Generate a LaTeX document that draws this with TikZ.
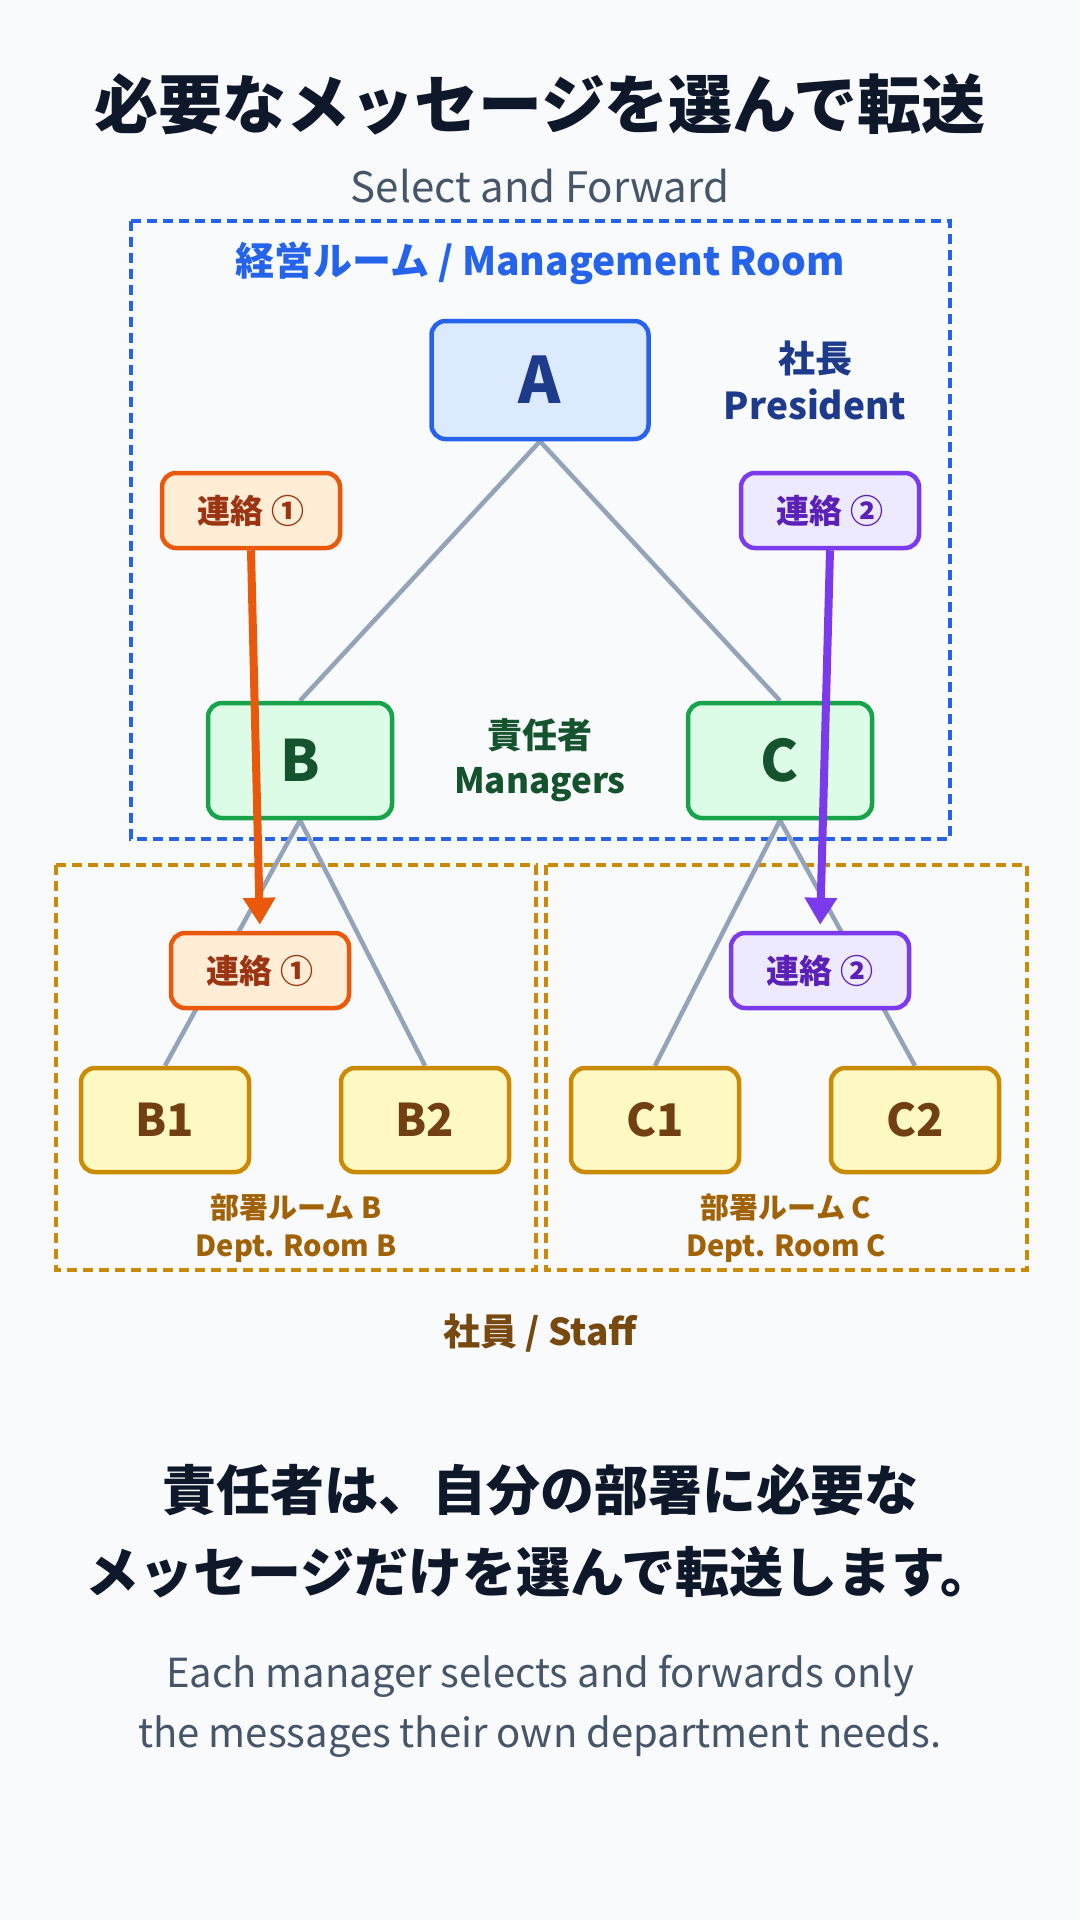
\documentclass[tikz,border=0pt]{standalone}
\usepackage{fontspec}
\setmainfont{Noto Sans CJK JP}
\usepackage{tikz}
\usetikzlibrary{positioning, arrows.meta, backgrounds}
\definecolor{SlateBg}{RGB}{248, 250, 252}
\definecolor{SlateInk}{RGB}{15, 23, 42}
\definecolor{SlateSub}{RGB}{71, 85, 105}
\definecolor{SlateLine}{RGB}{148, 163, 184}
\definecolor{RoomBlue}{RGB}{37, 99, 235}
\definecolor{RoomBlueFill}{RGB}{219, 234, 254}
\definecolor{RoomBlueInk}{RGB}{30, 58, 138}
\definecolor{MgrGreen}{RGB}{22, 163, 74}
\definecolor{MgrGreenFill}{RGB}{220, 252, 231}
\definecolor{MgrGreenInk}{RGB}{20, 83, 45}
\definecolor{MsgOrange}{RGB}{234, 88, 12}
\definecolor{MsgOrangeFill}{RGB}{255, 237, 213}
\definecolor{MsgOrangeInk}{RGB}{154, 52, 18}
\definecolor{MsgPurple}{RGB}{124, 58, 237}
\definecolor{MsgPurpleFill}{RGB}{237, 233, 254}
\definecolor{MsgPurpleInk}{RGB}{91, 33, 182}
\definecolor{StaffGold}{RGB}{202, 138, 4}
\definecolor{StaffFill}{RGB}{254, 249, 195}
\definecolor{StaffInk}{RGB}{113, 63, 18}
\definecolor{DeptInk}{RGB}{161, 98, 7}
\definecolor{StaffLbl}{RGB}{120, 73, 15}
\tikzset{
  person/.style={rectangle, rounded corners=14pt, line width=4.5pt, inner sep=0pt, align=center},
  boss/.style={person, draw=RoomBlue, fill=RoomBlueFill, text=RoomBlueInk,
    minimum width=217pt, minimum height=118pt, font=\fontsize{64}{70}\selectfont\bfseries},
  mgr/.style={person, draw=MgrGreen, fill=MgrGreenFill, text=MgrGreenInk,
    minimum width=184pt, minimum height=115pt, font=\fontsize{57}{64}\selectfont\bfseries},
  staff/.style={person, draw=StaffGold, fill=StaffFill, text=StaffInk,
    minimum width=168pt, minimum height=104pt, font=\fontsize{45}{52}\selectfont\bfseries},
  msg/.style={person, minimum width=178pt, minimum height=75pt, font=\fontsize{33}{40}\selectfont\bfseries},
  msgone/.style={msg, draw=MsgOrange, fill=MsgOrangeFill, text=MsgOrangeInk},
  msgtwo/.style={msg, draw=MsgPurple, fill=MsgPurpleFill, text=MsgPurpleInk},
  lbl/.style={inner sep=0pt, align=center, font=\fontsize{35}{45}\selectfont\bfseries},
  room/.style={line width=3.5pt, dash pattern=on 10pt off 6pt, RoomBlue},
  dept/.style={line width=3.5pt, dash pattern=on 10pt off 6pt, StaffGold},
  link/.style={line width=4.5pt, SlateLine},
  fwd/.style={-{Triangle[length=27pt, width=31pt]}, line width=8pt, shorten >=6pt},
}
\begin{document}
\begin{tikzpicture}[x=1pt, y=-1pt]
    % headings
    \node[inner sep=0pt, text=SlateInk, font=\fontsize{64}{70}\selectfont\bfseries] (title) at (540,104) {必要なメッセージを選んで転送};
    \node[inner sep=0pt, text=SlateSub, font=\fontsize{42}{50}\selectfont] (subtitle) at (540,186) {Select and Forward};
    \node[lbl, text=RoomBlue, font=\fontsize{39}{46}\selectfont\bfseries] (mgmt) at (540,263) {経営ルーム / Management Room};
    % people
    \node[boss] (A) at (540,380) {A};
    \node[mgr] (B) at (300,760.5) {B};
    \node[mgr] (C) at (780,760.5) {C};
    \node[staff] (B1) at (165,1120) {B1};
    \node[staff] (B2) at (425,1120) {B2};
    \node[staff] (C1) at (655,1120) {C1};
    \node[staff] (C2) at (915,1120) {C2};
    \node[lbl, text=RoomBlueInk, font=\fontsize{37}{47}\selectfont\bfseries, right=73pt of A] (pres) {社長\\President};
    \node[lbl, text=MgrGreenInk] (mgrs) at (540,760) {責任者\\Managers};
    \node[lbl, text=DeptInk, font=\fontsize{29}{38}\selectfont\bfseries] (deptB) at (296,1228) {部署ルーム B\\Dept. Room B};
    \node[lbl, text=DeptInk, font=\fontsize{29}{38}\selectfont\bfseries] (deptC) at (786,1228) {部署ルーム C\\Dept. Room C};
    \node[lbl, text=StaffLbl, font=\fontsize{37}{46}\selectfont\bfseries] (staffs) at (540,1333) {社員 / Staff};
    % messages
    \node[msgone] (m1top) at (251,510.5) {連絡 ①};
    \node[msgtwo] (m2top) at (830,510.5) {連絡 ②};
    \node[msgone] (m1low) at (260,970.5) {連絡 ①};
    \node[msgtwo] (m2low) at (820,970.5) {連絡 ②};
    % summary
    \node[inner sep=0pt, align=center, text=SlateInk, font=\fontsize{54}{82}\selectfont\bfseries] (sumjp) at (540,1531) {責任者は、自分の部署に必要な\\メッセージだけを選んで転送します。};
    \node[inner sep=0pt, align=center, text=SlateSub, font=\fontsize{40}{60}\selectfont] (sumen) at (540,1706) {Each manager selects and forwards only\\the messages their own department needs.};
    \begin{scope}[on background layer]
      \fill[SlateBg] (0,0) rectangle (1080,1920);
      \draw[room] (131,221) rectangle (950,839);
      \draw[dept] (56,865) rectangle (536,1270);
      \draw[dept] (546,865) rectangle (1027,1270);
      \draw[link] (A.south) -- (B.north);
      \draw[link] (A.south) -- (C.north);
      \draw[link] (B.south) -- (B1.north);
      \draw[link] (B.south) -- (B2.north);
      \draw[link] (C.south) -- (C1.north);
      \draw[link] (C.south) -- (C2.north);
    \end{scope}
    \draw[fwd, MsgOrange] (m1top.south) -- (m1low.north);
    \draw[fwd, MsgPurple] (m2top.south) -- (m2low.north);
\end{tikzpicture}
\end{document}
